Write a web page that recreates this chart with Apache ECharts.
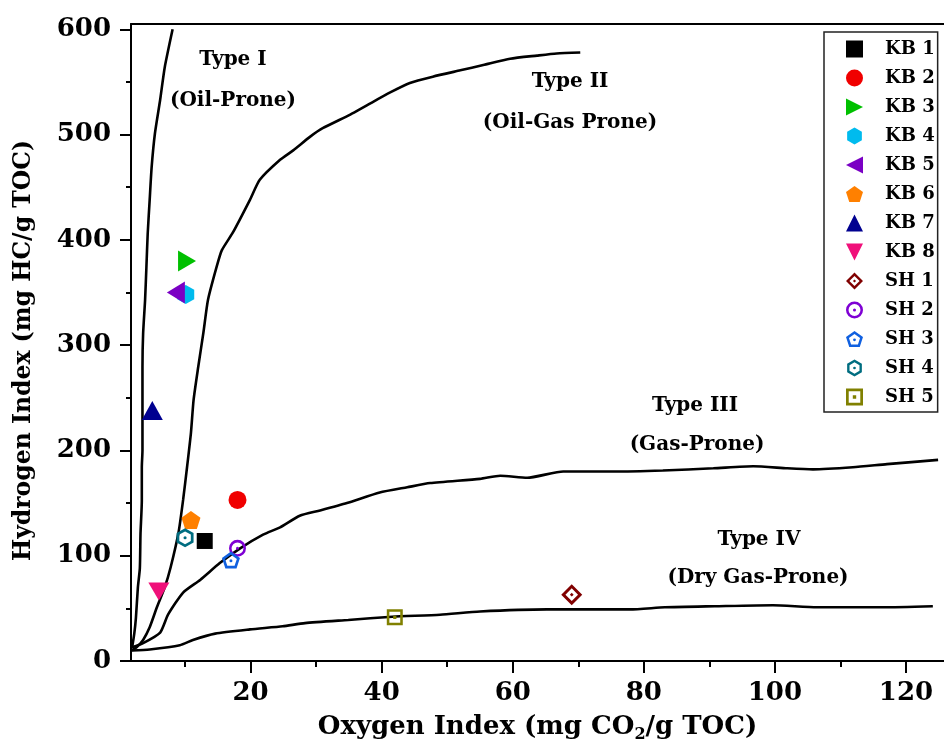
<!DOCTYPE html>
<html><head><meta charset="utf-8">
<script src="https://cdn.jsdelivr.net/npm/echarts@6/dist/echarts.min.js"></script>
<style>html,body{margin:0;padding:0;background:#fff}#c{width:944px;height:752px}</style>
</head><body><div id="c"></div>
<script>
// ---- data ----
const sampleNames = ['KB 1','KB 2','KB 3','KB 4','KB 5','KB 6','KB 7','KB 8','SH 1','SH 2','SH 3','SH 4','SH 5'];
const sampleOI = [13, 18, 10.3, 10.1, 8.6, 10.9, 5.0, 6.0, 69, 18, 17, 10, 42];
const sampleHI = [114, 153, 380, 348, 350, 134, 238, 66, 63, 107, 96, 117, 41.5];

const typeI_OI = [1.9, 2.25, 2.5, 2.8, 3.1, 3.2, 3.4, 3.4, 3.5, 3.5, 3.5, 3.6, 3.9, 4.1, 4.3, 4.6, 4.9, 5.4, 6.2, 6.9, 8.1];
const typeI_HI = [12, 26, 41, 70, 88, 121, 152, 184, 200, 247, 279, 311, 343, 374, 406, 438, 469, 501, 533, 564, 600];

const typeII_OI = [1.9, 2.6, 3.6, 4.6, 5.7, 6.9, 7.8, 9.0, 9.7, 10.3, 10.9, 11.3, 12.0, 12.8, 13.5, 14.8, 15.6, 17.3, 19.9, 21.4, 24.5, 26.5, 29.1, 31.0, 35.2, 37.8, 41.3, 44.3, 47.8, 52.0, 55.5, 59.6, 63.7, 66.7, 70.3];
const typeII_HI = [10, 13, 20, 32, 51, 70, 89, 122, 153, 184, 217, 248, 279, 312, 343, 374, 390, 407, 438, 457, 476, 485, 498, 506, 519, 528, 540, 549, 555, 561, 566, 572, 575, 577, 578];

const typeIII_OI = [1.9, 3.6, 6.2, 7.4, 9.7, 12.3, 15.3, 18.4, 21.9, 24.5, 27.5, 30.6, 34.7, 39.7, 43.9, 47.4, 55.0, 58.1, 62.2, 67.7, 75.3, 82.9, 90.6, 96.7, 101.9, 105.8, 111.9, 117.1, 124.9];
const typeIII_HI = [13, 17, 27, 44, 65, 77, 93, 107, 120, 127, 138, 143, 150, 160, 165, 169, 173, 176, 174, 180, 180, 181, 183, 185, 183, 182, 184, 187, 191];

const typeIV_OI = [1.9, 4.6, 9.2, 11.2, 14.6, 19.9, 24.9, 28.3, 34.9, 41.6, 48.9, 55.0, 65.2, 77.9, 83.2, 90.8, 99.7, 106.4, 116.5, 124.1];
const typeIV_HI = [10, 11, 15, 20, 26, 30, 33, 36, 39, 42, 44, 47, 49, 49, 51, 52, 53, 51, 51, 52];

const xTickValues = [20, 40, 60, 80, 100, 120];
const xMinorValues = [10, 30, 50, 70, 90, 110];
const yTickValues = [0, 100, 200, 300, 400, 500, 600];
const yMinorValues = [50, 150, 250, 350, 450, 550];

const regionLabels = ['Type I', '(Oil-Prone)', 'Type II', '(Oil-Gas Prone)', 'Type III', '(Gas-Prone)', 'Type IV', '(Dry Gas-Prone)'];

// ---- styles ----
const FONT = '"DejaVu Serif", "Liberation Serif", serif';
const colors = ['#000000','#f00000','#00c000','#00bbee','#7a00c4','#ff8000','#000090','#f0107a','#800000','#7f00d4','#1060e0','#006d80','#808000'];
const SYM = {
  rightTri: 'path://M0,0 L100,50 L0,100 Z',
  leftTri: 'path://M100,0 L0,50 L100,100 Z',
  downTri: 'path://M0,0 L100,0 L50,100 Z',
  hexFill: 'path://M50,0 L93.3,25 L93.3,75 L50,100 L6.7,75 L6.7,25 Z',
  pentFill: 'path://M50,0 L97.6,34.5 L79.4,90.5 L20.6,90.5 L2.4,34.5 Z',
  diamondRing: 'path://M50,0 L100,50 L50,100 L0,50 Z M50,20 L20,50 L50,80 L80,50 Z M50,41 L59,50 L50,59 L41,50 Z',
  circleRing: 'path://M50,0 A50,50 0 1,1 50,100 A50,50 0 1,1 50,0 Z M50,15 A35,35 0 1,0 50,85 A35,35 0 1,0 50,15 Z M50,41 A9,9 0 1,1 50,59 A9,9 0 1,1 50,41 Z',
  pentRing: 'path://M50,0 L97.6,34.5 L79.4,90.5 L20.6,90.5 L2.4,34.5 Z M50,17.3 L18.9,39.9 L30.8,76.5 L69.2,76.5 L81.1,39.9 Z M50,42 A8,8 0 1,1 50,58 A8,8 0 1,1 50,42 Z',
  hexRing: 'path://M50,0 L93.3,25 L93.3,75 L50,100 L6.7,75 L6.7,25 Z M50,16.2 L20.7,33.1 L20.7,66.9 L50,83.8 L79.3,66.9 L79.3,33.1 Z M50,42 A8,8 0 1,1 50,58 A8,8 0 1,1 50,42 Z',
  squareRing: 'path://M0,0 L100,0 L100,100 L0,100 Z M16,16 L16,84 L84,84 L84,16 Z M40,40 L60,40 L60,60 L40,60 Z'
};
const symbols = ['rect','circle',SYM.rightTri,SYM.hexFill,SYM.leftTri,SYM.pentFill,'triangle',SYM.downTri,SYM.diamondRing,SYM.circleRing,SYM.pentRing,SYM.hexRing,SYM.squareRing];
const symSizes = [[16,16],18,[18,21],[17,19],[18,22],[19,18],[21,19],[21,18],[21,21],[17,17],[18,17],[17,19],[16,16]];

const toPairs = (xs, ys) => xs.map((x, i) => [x, ys[i]]);
const curves = [[typeI_OI, typeI_HI],[typeII_OI, typeII_HI],[typeIII_OI, typeIII_HI],[typeIV_OI, typeIV_HI]];

const series = [];
curves.forEach((c, k) => {
  series.push({
    type: 'line', name: 'curve' + k, data: toPairs(c[0], c[1]), showSymbol: false, symbol: 'none',
    smooth: 0.2, z: 1, silent: true,
    lineStyle: { color: '#000', width: 2.6 }
  });
});
sampleNames.forEach((n, i) => {
  series.push({
    type: 'scatter', name: n, data: [[sampleOI[i], sampleHI[i]]],
    symbol: symbols[i], symbolSize: symSizes[i], z: 3,
    itemStyle: { color: colors[i], opacity: 1 }
  });
});

const XMIN = 1.75, XMAX = 125.8, YMIN = 0, YMAX = 605;
const lab = { fontFamily: FONT, fontWeight: 'bold', color: '#000' };

const option = {
  animation: false,
  backgroundColor: '#fff',
  grid: { left: 131, right: 0, top: 24, bottom: 91, containLabel: false },
  xAxis: [
    { type: 'value', min: XMIN, max: XMAX, position: 'bottom',
      axisLine: { lineStyle: { color: '#000', width: 2 } },
      axisTick: { length: 12, lineStyle: { color: '#000', width: 2 }, customValues: xTickValues },
      axisLabel: Object.assign({ customValues: xTickValues, margin: 19, fontSize: 26 }, lab),
      splitLine: { show: false },
      name: 'Oxygen Index (mg CO{sub|2}/g TOC)', nameLocation: 'middle', nameGap: 41,
      nameTextStyle: Object.assign({ fontSize: 26, lineHeight: 32,
        rich: { sub: { fontFamily: FONT, fontWeight: 'bold', fontSize: 16, lineHeight: 16, verticalAlign: 'bottom', color: '#000' } } }, lab)
    },
    { type: 'value', min: XMIN, max: XMAX, position: 'bottom',
      axisLine: { show: false },
      axisTick: { length: 6, lineStyle: { color: '#000', width: 2 }, customValues: xMinorValues },
      axisLabel: { show: false }, splitLine: { show: false } },
    { type: 'value', min: XMIN, max: XMAX, position: 'top',
      axisLine: { show: true, lineStyle: { color: '#000', width: 2 } },
      axisTick: { show: false }, axisLabel: { show: false }, splitLine: { show: false } }
  ],
  yAxis: [
    { type: 'value', min: YMIN, max: YMAX, position: 'left',
      axisLine: { show: true, lineStyle: { color: '#000', width: 2 } },
      axisTick: { show: true, length: 11, lineStyle: { color: '#000', width: 2 }, customValues: yTickValues },
      axisLabel: Object.assign({ customValues: yTickValues, margin: 20, fontSize: 26 }, lab),
      splitLine: { show: false },
      name: 'Hydrogen Index (mg HC/g TOC)', nameLocation: 'middle', nameGap: 95, nameRotate: 90,
      nameTextStyle: Object.assign({ fontSize: 23.5, padding: [0, 16, 0, 0] }, lab)
    },
    { type: 'value', min: YMIN, max: YMAX, position: 'left',
      axisLine: { show: false },
      axisTick: { show: true, length: 5, lineStyle: { color: '#000', width: 2 }, customValues: yMinorValues },
      axisLabel: { show: false }, splitLine: { show: false } }
  ],
  legend: {
    orient: 'vertical', left: 824, top: 32,
    itemWidth: 17, itemHeight: 17, itemGap: 11,
    padding: [8, 3, 6, 22],
    borderColor: '#222', borderWidth: 1.5,
    selectedMode: false,
    textStyle: Object.assign({ fontSize: 18, padding: [0, 0, 0, 17] }, lab),
    data: sampleNames
  },
  graphic: [
    [233, 60], [233, 101], [570, 82], [570, 123], [695, 406], [697, 445], [759, 540], [758, 578]
  ].map((p, i) => ({
    type: 'text', x: p[0], y: p[1], z: 10, silent: true,
    style: { text: regionLabels[i], font: 'bold 20px ' + FONT, fill: '#000',
             textAlign: 'center', textVerticalAlign: 'middle', align: 'center', verticalAlign: 'middle' }
  })),
  series: series
};

const chart = echarts.init(document.getElementById('c'), null, { renderer: 'canvas' });
chart.setOption(option);
</script>
</body></html>
